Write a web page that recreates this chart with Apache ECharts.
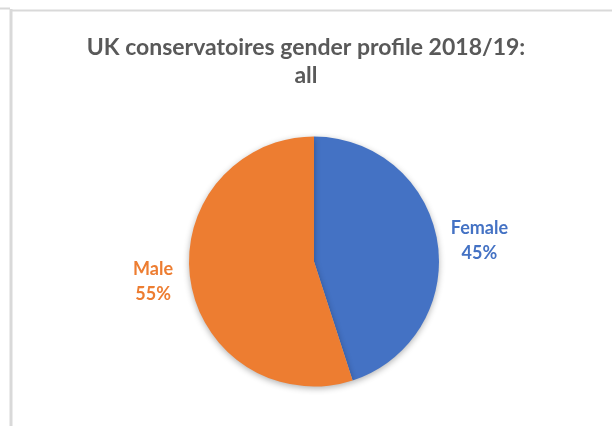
<!DOCTYPE html>
<html>
<head>
<meta charset="utf-8">
<script src="https://cdn.jsdelivr.net/npm/echarts@6/dist/echarts.min.js"></script>
<style>
  html, body { margin: 0; padding: 0; background: #fff; }
  #chart { width: 612px; height: 426px; }
</style>
</head>
<body>
<div id="chart"></div>
<script>
// Gender split of UK conservatoire students, 2018/19
const categories = ['Female', 'Male'];
const shares = [45, 55];
const sliceColors = ['#4472C4', '#ED7D31'];
const titleText = 'UK conservatoires gender profile 2018/19:\nall';

const FONT = "Lato, 'Open Sans', sans-serif";

const chart = echarts.init(document.getElementById('chart'), null, { renderer: 'canvas' });

// per-slice label offsets (line lengths that place the text beside the slice)
const labelLines = [
  { length: 5, length2: 4 },
  { length: 3, length2: 1.5 }
];

const data = categories.map((name, i) => ({
  name,
  value: shares[i],
  itemStyle: { color: sliceColors[i] },
  label: { color: sliceColors[i] },
  labelLine: { show: false, length: labelLines[i].length, length2: labelLines[i].length2 }
}));

chart.setOption({
  animation: false,
  backgroundColor: '#ffffff',
  title: {
    text: titleText,
    left: 'center',
    top: 29,
    textStyle: {
      fontFamily: FONT,
      fontSize: 23,
      fontWeight: 'bold',
      color: '#595959',
      lineHeight: 28
    }
  },
  graphic: [
    { type: 'line', shape: { x1: 0, y1: 8.5, x2: 10, y2: 8.5 }, style: { stroke: '#d9d9d9', lineWidth: 2 } },
    { type: 'line', shape: { x1: 11, y1: 9, x2: 11, y2: 426 }, style: { stroke: '#d9d9d9', lineWidth: 3 } },
    { type: 'line', shape: { x1: 11, y1: 10.5, x2: 612, y2: 10.5 }, style: { stroke: '#d9d9d9', lineWidth: 2 } }
  ],
  series: [{
    type: 'pie',
    center: [314, 261.5],
    radius: [0, 125],
    startAngle: 90,
    clockwise: true,
    avoidLabelOverlap: false,
    data,
    itemStyle: {
      borderWidth: 0,
      shadowBlur: 6,
      shadowColor: 'rgba(0,0,0,0.3)',
      shadowOffsetY: 2
    },
    label: {
      show: true,
      position: 'outside',
      distanceToLabelLine: 0,
      formatter: p => '{t|' + p.name + '}\n{t|' + p.value + '%}',
      rich: {
        t: {
          fontFamily: FONT,
          fontSize: 18,
          fontWeight: 'bold',
          width: 66,
          align: 'center',
          lineHeight: 25
        }
      }
    },
    emphasis: { disabled: true }
  }]
});
</script>
</body>
</html>
